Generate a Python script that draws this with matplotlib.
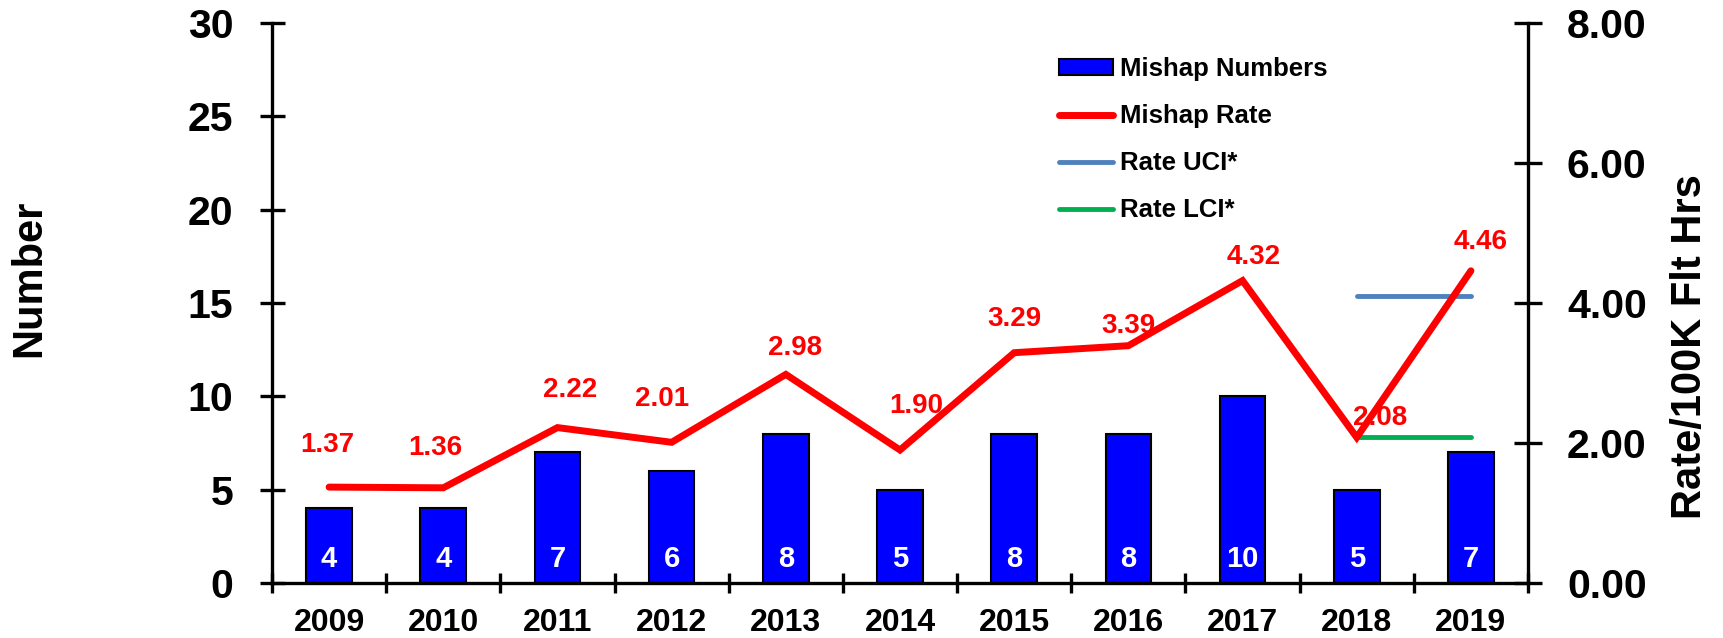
import numpy as np
import matplotlib
matplotlib.use("Agg")
import matplotlib.pyplot as plt
from matplotlib.ticker import FixedLocator, FormatStrFormatter

plt.rcParams["font.family"] = ["Liberation Sans", "DejaVu Sans"]
plt.rcParams["font.weight"] = "bold"

# ============================================================
# DATA
# ============================================================
years = ["2009", "2010", "2011", "2012", "2013", "2014",
         "2015", "2016", "2017", "2018", "2019"]
mishap_numbers = [4, 4, 7, 6, 8, 5, 8, 8, 10, 5, 7]
mishap_rate = [1.37, 1.36, 2.22, 2.01, 2.98, 1.90, 3.29, 3.39, 4.32, 2.08, 4.46]

# confidence interval for the last period (2018-2019)
ci_years = ["2018", "2019"]
rate_uci = [4.10, 4.10]
rate_lci = [2.08, 2.08]

# label offsets (points) for the rate labels, as placed in the original
rate_lbl_dx = [-1.5, -6, 9, -7, 7, 12, 0, 0, 8, 17, 7]
rate_lbl_dy = [30, 29, 27, 31, 19, 32, 24, 14, 17, 14, 21]

# ============================================================
# STYLE
# ============================================================
C_BAR = "#0000FF"
C_RATE = "#FF0000"
C_UCI = "#4F81BD"
C_LCI = "#00B050"
LW_AX = 2.4

fig = plt.figure(figsize=(17.23, 6.38), dpi=100)
ax1 = fig.add_axes([272 / 1723, 55 / 638, 1256 / 1723, 560 / 638])
ax2 = ax1.twinx()

x = np.arange(len(years))
ci_x = [years.index(y) for y in ci_years]

# bars (left axis)
ax1.bar(x, mishap_numbers, width=0.40, color=C_BAR, edgecolor="black",
        linewidth=1.5, label="Mishap Numbers", zorder=2)
for xi, n in zip(x, mishap_numbers):
    ax1.annotate(str(n), (xi, 0), xytext=(0, 17.5), textcoords="offset points",
                 ha="center", va="center", color="white", fontsize=21,
                 fontweight="bold", zorder=3)

ax1.set_xlim(-0.5, len(years) - 0.5)
ax1.set_ylim(0, 30)
ax1.yaxis.set_major_locator(FixedLocator([0, 5, 10, 15, 20, 25, 30]))

# rate (right axis)
ax2.plot(x, mishap_rate, color=C_RATE, lw=5, solid_capstyle="round",
         solid_joinstyle="miter", label="Mishap Rate", zorder=4)
ax2.plot(ci_x, rate_uci, color=C_UCI, lw=3.5, solid_capstyle="round",
         label="Rate UCI*", zorder=3)
ax2.plot(ci_x, rate_lci, color=C_LCI, lw=3.5, solid_capstyle="round",
         label="Rate LCI*", zorder=3)
for xi, r, dx, dy in zip(x, mishap_rate, rate_lbl_dx, rate_lbl_dy):
    ax2.annotate(f"{r:.2f}", (xi, r), xytext=(dx, dy), textcoords="offset points",
                 ha="center", va="center", color=C_RATE, fontsize=20,
                 fontweight="bold", zorder=5)
ax2.set_ylim(0, 8)
ax2.yaxis.set_major_locator(FixedLocator([0, 2, 4, 6, 8]))
ax2.yaxis.set_major_formatter(FormatStrFormatter("%.2f"))

# ------------------------------------------------------------
# axes styling
# ------------------------------------------------------------
for sp in ["top", "right"]:
    ax1.spines[sp].set_visible(False)
for sp in ["top", "left", "bottom"]:
    ax2.spines[sp].set_visible(False)
ax1.spines["left"].set_linewidth(LW_AX)
ax1.spines["bottom"].set_linewidth(LW_AX)
ax2.spines["right"].set_linewidth(LW_AX)

# category boundaries as major ticks, names as minor ticks
ax1.xaxis.set_major_locator(FixedLocator(np.arange(-0.5, len(years), 1.0)))
ax1.xaxis.set_minor_locator(FixedLocator(x))
ax1.set_xticklabels([], minor=False)
ax1.set_xticklabels(years, minor=True)
ax1.tick_params(axis="x", which="major", direction="inout", length=15,
                width=LW_AX)
ax1.tick_params(axis="x", which="minor", length=0, pad=18, labelsize=23)

ax1.tick_params(axis="y", direction="inout", length=18, width=LW_AX,
                labelsize=29.5, pad=19)
ax2.tick_params(axis="y", direction="inout", length=20, width=LW_AX,
                labelsize=29.5, pad=18)
for lbl in ax1.get_yticklabels() + ax2.get_yticklabels() + ax1.get_xticklabels(minor=True):
    lbl.set_fontweight("bold")

# axis titles
fig.text(29 / 1723, 1 - 278 / 638, "Number", rotation=90, ha="center",
         va="center", fontsize=30, fontweight="bold")
fig.text(1690 / 1723, 1 - 347 / 638, "Rate/100K Flt Hrs", rotation=90,
         ha="center", va="center", fontsize=30, fontweight="bold")

# legend
h1, l1 = ax1.get_legend_handles_labels()
h2, l2 = ax2.get_legend_handles_labels()
leg = ax2.legend(h1 + h2, l1 + l2, loc="upper left",
                 bbox_to_anchor=(1059 / 1723, 1 - 57 / 638),
                 bbox_transform=fig.transFigure, frameon=False,
                 prop={"size": 18.5, "weight": "bold"}, borderpad=0,
                 borderaxespad=0, handlelength=2.1, handleheight=0.55,
                 handletextpad=0.27, labelspacing=0.90)

fig.savefig("out.png", dpi=100)
